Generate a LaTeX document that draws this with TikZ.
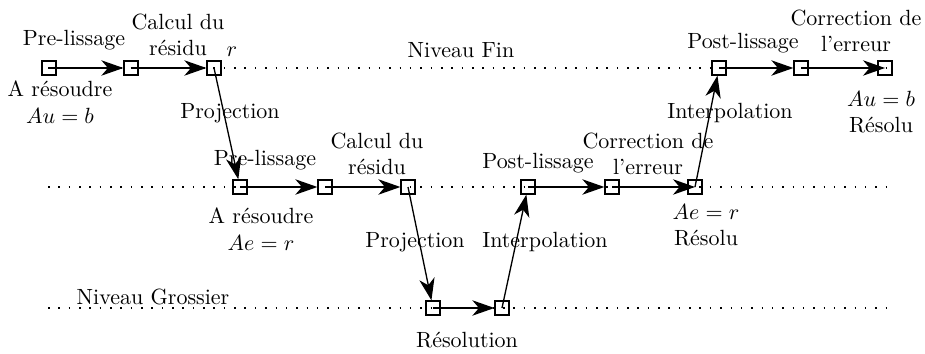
\documentclass[tikz,border=0pt]{standalone}
\usetikzlibrary{arrows.meta}
\begin{document}
\begin{tikzpicture}[x=0.4545pt,y=-0.4545pt,
  sq/.style={draw,line width=0.55pt,minimum size=6.4pt,inner sep=0pt},
  lvl/.style={line width=0.7pt,dash pattern=on 0.7pt off 4pt},
  flow/.style={line width=0.6pt,-{Stealth[length=10pt,width=7pt,inset=3pt]}},
  lab/.style={inner sep=0pt,align=center}]
\useasboundingbox (0,0) rectangle (925,354);
% level lines
\coordinate (t0) at (48,68);  \coordinate (t1) at (891,68);
\coordinate (m0) at (48,187); \coordinate (m1) at (891,187);
\coordinate (b0) at (48,308); \coordinate (b1) at (891,308);
\draw[lvl] (t0) -- (t1);
\draw[lvl] (m0) -- (m1);
\draw[lvl] (b0) -- (b1);
% nodes
\node[sq] (A1) at (49,68) {};
\node[sq] (A2) at (131,68) {};
\node[sq] (A3) at (214,68) {};
\node[sq] (A4) at (719,68) {};
\node[sq] (A5) at (801,68) {};
\node[sq] (A6) at (885,68) {};
\node[sq] (B1) at (240,187) {};
\node[sq] (B2) at (325,187) {};
\node[sq] (B3) at (408,187) {};
\node[sq] (B4) at (528,187) {};
\node[sq] (B5) at (612,187) {};
\node[sq] (B6) at (695,187) {};
\node[sq] (C1) at (433,308) {};
\node[sq] (C2) at (502,308) {};
% connectors
\draw[flow] (A1.center) -- (A2);
\draw[flow] (A2.center) -- (A3);
\draw[flow] (A3.center) -- (B1);
\draw[flow] (B1.center) -- (B2);
\draw[flow] (B2.center) -- (B3);
\draw[flow] (B3.center) -- (C1);
\draw[flow] (C1.center) -- (C2);
\draw[flow] (C2.center) -- (B4);
\draw[flow] (B4.center) -- (B5);
\draw[flow] (B5.center) -- (B6.center);
\draw[flow] (B6.center) -- (A4);
\draw[flow] (A4.center) -- (A5);
\draw[flow] (A5.center) -- (A6.center);
% labels top
\node[lab] (l1) at (74,40) {Pre-lissage};
\node[lab] (l2) at (178,35) {Calcul du\\résidu};
\node[lab] (l3) at (232,52) {$r$};
\node[lab] (l4) at (60,102) {A résoudre\\$Au=b$};
\node[lab] (l5) at (230,113) {Projection};
\node[lab] (l6) at (461,50) {Niveau Fin};
\node[lab] (l7) at (743,43) {Post-lissage};
\node[lab] (l8) at (856,31) {Correction de\\l'erreur};
\node[lab] (l9) at (881,112) {$Au=b$\\Résolu};
\node[lab] (l10) at (730,113) {Interpolation};
% labels middle
\node[lab] (m1l) at (265,160) {Pre-lissage};
\node[lab] (m2l) at (377,154) {Calcul du\\résidu};
\node[lab] (m3l) at (261,229) {A résoudre\\$Ae=r$};
\node[lab] (m4l) at (415,242) {Projection};
\node[lab] (m5l) at (538,163) {Post-lissage};
\node[lab] (m6l) at (648,154) {Correction de\\l'erreur};
\node[lab] (m7l) at (706,225) {$Ae=r$\\Résolu};
\node[lab] (m8l) at (545,242) {Interpolation};
% labels bottom
\node[lab] (b1l) at (153,297) {Niveau Grossier};
\node[lab] (b2l) at (467,340) {Résolution};
\end{tikzpicture}
\end{document}
